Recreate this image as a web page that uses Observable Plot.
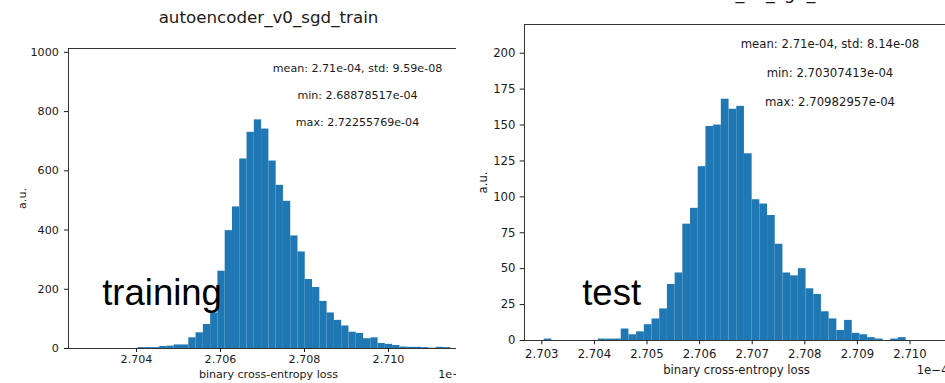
<!DOCTYPE html>
<html><head><meta charset="utf-8">
<script src="https://cdn.jsdelivr.net/npm/d3@7"></script>
<script src="https://cdn.jsdelivr.net/npm/@observablehq/plot@0.6"></script>
<style>
html,body{margin:0;padding:0;background:#fff;}
#wrap{position:relative;width:945px;height:383px;overflow:hidden;background:#fff;}
.panel{position:absolute;top:0;height:383px;overflow:hidden;}
.panel svg{max-width:none !important;overflow:visible;display:block;}
</style></head><body>
<div id="wrap"><div id="left" class="panel" style="left:0;width:456px"></div><div id="right" class="panel" style="left:460px;width:485px"></div></div>
<script>
// ---- data (x values in units of 1e-4) ----
const trainEdges = [2.704032,2.704205,2.704378,2.704552,2.704725,2.704898,2.705072,2.705245,2.705418,2.705592,2.705765,2.705938,2.706112,2.706285,2.706458,2.706632,2.706805,2.706978,2.707152,2.707325,2.707498,2.707672,2.707845,2.708018,2.708192,2.708365,2.708538,2.708712,2.708885,2.709058,2.709232,2.709405,2.709578,2.709752,2.709925,2.710098,2.710272,2.710445,2.710618,2.710792,2.710965,2.711138,2.711312,2.711485];
const trainCounts = [3,3,3,7,8,12,12,36,53,81,120,261,398,478,640,730,772,741,633,551,497,380,326,233,206,159,120,95,76,55,51,33,36,17,14,10,5,4,4,3,1,4,3];
const testEdges = [2.703046,2.703192,2.703339,2.703485,2.703632,2.703778,2.703924,2.704071,2.704217,2.704364,2.704510,2.704656,2.704803,2.704949,2.705096,2.705242,2.705388,2.705535,2.705681,2.705828,2.705974,2.706120,2.706267,2.706413,2.706560,2.706706,2.706852,2.706999,2.707145,2.707292,2.707438,2.707584,2.707731,2.707877,2.708024,2.708170,2.708316,2.708463,2.708609,2.708756,2.708902,2.709048,2.709195,2.709341,2.709488,2.709634,2.709780,2.709927];
const testCounts = [1,0,0,0,0,0,0,1,1,1,8,4,6,11,15,22,39,47,81,92,121,149,150,168,161,163,130,98,95,87,67,47,45,50,36,32,20,15,7,14,5,4,2,1,0,1,2];

const trainXTicks = [2.704, 2.706, 2.708, 2.710];
const trainYTicks = [0, 200, 400, 600, 800, 1000];
const testXTicks = [2.703, 2.704, 2.705, 2.706, 2.707, 2.708, 2.709, 2.710];
const testYTicks = [0, 25, 50, 75, 100, 125, 150, 175, 200];

const trainTitle = "autoencoder_v0_sgd_train";
const testTitle = "autoencoder_v0_sgd_test";
const trainStats = ["mean: 2.71e-04, std: 9.59e-08", "min: 2.68878517e-04", "max: 2.72255769e-04"];
const testStats = ["mean: 2.71e-04, std: 8.14e-08", "min: 2.70307413e-04", "max: 2.70982957e-04"];
const xLabel = "binary cross-entropy loss";
const yLabel = "a.u.";
const offsetLabel = "1e\u22124";
const trainTag = "training";
const testTag = "test";

function bins(edges, counts) {
  return counts.map((c, i) => ({x1: edges[i], x2: edges[i + 1], n: c}));
}

function panel(c) {
  const txt = (s, o) => Plot.text([s], {text: d => d, fill: "#1a1a1a", lineAnchor: "middle", ...o});
  return Plot.plot({
    width: c.width, height: 383,
    marginLeft: c.ml, marginRight: c.mr, marginTop: c.mt, marginBottom: c.mb,
    style: {fontFamily: "'DejaVu Sans', sans-serif", fontSize: c.fs + "px", color: "#1a1a1a",
            background: "transparent", overflow: "visible", maxWidth: "none"},
    x: {domain: c.xDomain, ticks: c.xTicks, tickFormat: d3.format(".3f"), tickSize: c.tick, tickPadding: c.xpad, label: null},
    y: {domain: c.yDomain, ticks: c.yTicks, tickFormat: d3.format("d"), tickSize: c.tick, tickPadding: c.ypad, label: null},
    marks: [
      Plot.rect(bins(c.edges, c.counts), {x1: "x1", x2: "x2", y1: d => 0, y2: "n", fill: "#1f77b4"}),
      Plot.frame({stroke: "#222", strokeWidth: 0.9}),
      txt(c.title, {frameAnchor: "top", dy: c.titleDy, fontSize: c.titleFs}),
      txt(c.stats[0], {frameAnchor: "top-left", dx: c.statsDx, dy: c.statsDy[0], textAnchor: "middle", fontSize: c.fs}),
      txt(c.stats[1], {frameAnchor: "top-left", dx: c.statsDx, dy: c.statsDy[1], textAnchor: "middle", fontSize: c.fs}),
      txt(c.stats[2], {frameAnchor: "top-left", dx: c.statsDx, dy: c.statsDy[2], textAnchor: "middle", fontSize: c.fs}),
      txt(xLabel, {frameAnchor: "bottom", dy: c.xlabDy, fontSize: c.fs}),
      txt(offsetLabel, {frameAnchor: "bottom-right", dy: c.xlabDy, textAnchor: "end", fontSize: c.fs}),
      txt(yLabel, {frameAnchor: "left", dx: c.ylabDx, rotate: -90, textAnchor: "middle", fontSize: c.fs}),
      Plot.text([c.tag], {text: d => d, frameAnchor: "bottom-left", lineAnchor: "middle", dx: c.tagDx, dy: c.tagDy, textAnchor: "start",
        fontSize: 36.5, fontFamily: "'Liberation Sans', Arial, sans-serif", fill: "#000"})
    ]
  });
}

document.getElementById("left").append(panel({
  width: 480, ml: 68, mr: 12, mt: 48, mb: 35, fs: 11.1,
  xDomain: [2.702381, 2.711905], yDomain: [0, 1013], xTicks: trainXTicks, yTicks: trainYTicks,
  tick: 4, xpad: 3, ypad: 5.7,
  edges: trainEdges, counts: trainCounts,
  title: trainTitle, titleDy: -31.3, titleFs: 16.7,
  stats: trainStats, statsDx: 289, statsDy: [20, 47, 74],
  xlabDy: 26.2, ylabDx: -46.3, tag: trainTag, tagDx: 33.7, tagDy: -54.7
}));

document.getElementById("right").append(panel({
  width: 500, ml: 64, mr: 12, mt: 24, mb: 43, fs: 11.7,
  xDomain: [2.702671, 2.710732], yDomain: [0, 220], xTicks: testXTicks, yTicks: testYTicks,
  tick: 4.3, xpad: 5, ypad: 4.7,
  edges: testEdges, counts: testCounts,
  title: testTitle, titleDy: -31.5, titleFs: 17.7,
  stats: testStats, statsDx: 305.5, statsDy: [20.2, 49.2, 78.2],
  xlabDy: 29.5, ylabDx: -41, tag: testTag, tagDx: 57.7, tagDy: -46.7
}));
</script>
</body></html>
